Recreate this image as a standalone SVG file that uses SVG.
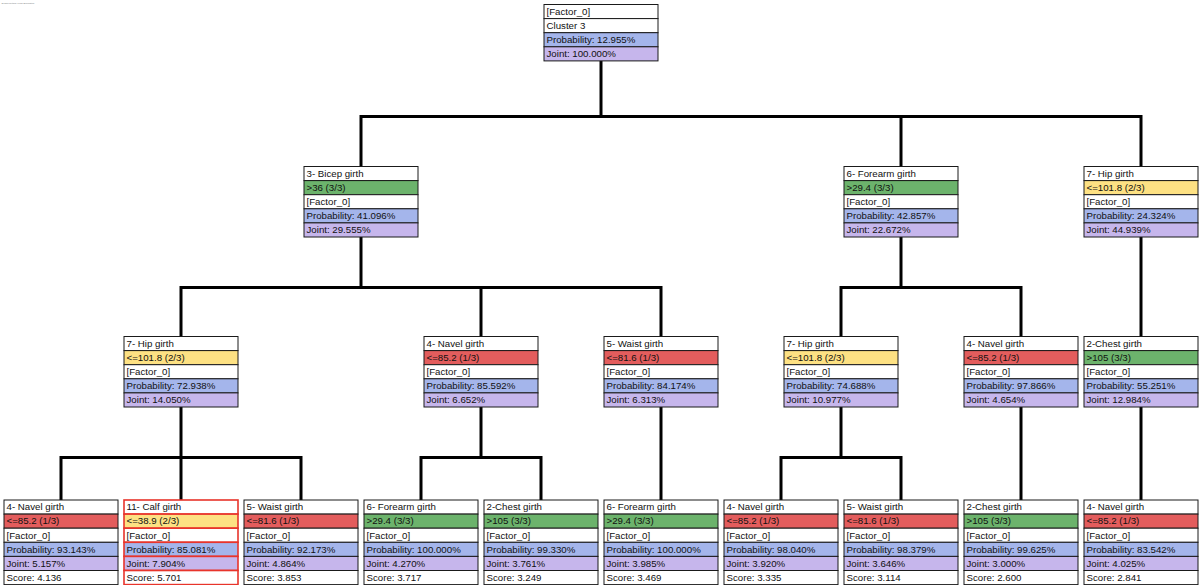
<svg xmlns="http://www.w3.org/2000/svg" width="1200" height="585" viewBox="0 0 1200 585">
<style>
rect{stroke:#1a1a1a;stroke-width:1}
.w{fill:#ffffff}.r{fill:#e35d5d}.y{fill:#fde183}.g{fill:#6cb36c}.b{fill:#a4b5eb}.p{fill:#c6b6ec}
.sel rect{stroke:#e8342b;stroke-width:1.6}
text{font-family:"Liberation Sans",Arial,sans-serif;font-size:9.7px;fill:#111}
.cap{font-size:2.2px;fill:#777}
.con path{fill:none;stroke:#000;stroke-width:3;stroke-linejoin:miter;stroke-linecap:butt}
</style>
<text class="cap" x="1.5" y="3.5">Search Method: Local Exploration</text>
<g class="con" id="connectors">
<path d="M601 60.5V116.5"/><path d="M361 166.5V116.5H1141V166.5"/><path d="M901 116.5V166.5"/>
<path d="M361 237V287.5"/><path d="M181 336.5V287.5H661V336.5"/><path d="M481 287.5V336.5"/>
<path d="M901 237V287.5"/><path d="M841 336.5V287.5H1021V336.5"/>
<path d="M1141 237V336.5"/>
<path d="M181 407V457.5"/><path d="M61 500V457.5H301V500"/><path d="M181 457.5V500"/>
<path d="M481 407V457.5"/><path d="M421 500V457.5H541V500"/>
<path d="M661 407V500"/>
<path d="M841 407V457.5"/><path d="M781 500V457.5H901V500"/>
<path d="M1021 407V500"/>
<path d="M1141 407V500"/>
</g>
<g id="root">
<rect class="w" x="544" y="4.5" width="114" height="14.1"/><text x="546.5" y="14.8">[Factor_0]</text>
<rect class="w" x="544" y="18.6" width="114" height="14.1"/><text x="546.5" y="28.9">Cluster 3</text>
<rect class="b" x="544" y="32.7" width="114" height="14.1"/><text x="546.5" y="43">Probability: 12.955%</text>
<rect class="p" x="544" y="46.8" width="114" height="14.1"/><text x="546.5" y="57.1">Joint: 100.000%</text>
</g>
<g id="n_bicep">
<rect class="w" x="304" y="166.5" width="114" height="14.1"/><text x="306.5" y="176.8">3- Bicep girth</text>
<rect class="g" x="304" y="180.6" width="114" height="14.1"/><text x="306.5" y="190.9">&gt;36 (3/3)</text>
<rect class="w" x="304" y="194.7" width="114" height="14.1"/><text x="306.5" y="205">[Factor_0]</text>
<rect class="b" x="304" y="208.8" width="114" height="14.1"/><text x="306.5" y="219.1">Probability: 41.096%</text>
<rect class="p" x="304" y="222.9" width="114" height="14.1"/><text x="306.5" y="233.2">Joint: 29.555%</text>
</g>
<g id="n_forearm">
<rect class="w" x="844" y="166.5" width="114" height="14.1"/><text x="846.5" y="176.8">6- Forearm girth</text>
<rect class="g" x="844" y="180.6" width="114" height="14.1"/><text x="846.5" y="190.9">&gt;29.4 (3/3)</text>
<rect class="w" x="844" y="194.7" width="114" height="14.1"/><text x="846.5" y="205">[Factor_0]</text>
<rect class="b" x="844" y="208.8" width="114" height="14.1"/><text x="846.5" y="219.1">Probability: 42.857%</text>
<rect class="p" x="844" y="222.9" width="114" height="14.1"/><text x="846.5" y="233.2">Joint: 22.672%</text>
</g>
<g id="n_hip1">
<rect class="w" x="1084" y="166.5" width="114" height="14.1"/><text x="1086.5" y="176.8">7- Hip girth</text>
<rect class="y" x="1084" y="180.6" width="114" height="14.1"/><text x="1086.5" y="190.9">&lt;=101.8 (2/3)</text>
<rect class="w" x="1084" y="194.7" width="114" height="14.1"/><text x="1086.5" y="205">[Factor_0]</text>
<rect class="b" x="1084" y="208.8" width="114" height="14.1"/><text x="1086.5" y="219.1">Probability: 24.324%</text>
<rect class="p" x="1084" y="222.9" width="114" height="14.1"/><text x="1086.5" y="233.2">Joint: 44.939%</text>
</g>
<g id="n_hip2">
<rect class="w" x="124" y="336.5" width="114" height="14.1"/><text x="126.5" y="346.8">7- Hip girth</text>
<rect class="y" x="124" y="350.6" width="114" height="14.1"/><text x="126.5" y="360.9">&lt;=101.8 (2/3)</text>
<rect class="w" x="124" y="364.7" width="114" height="14.1"/><text x="126.5" y="375">[Factor_0]</text>
<rect class="b" x="124" y="378.8" width="114" height="14.1"/><text x="126.5" y="389.1">Probability: 72.938%</text>
<rect class="p" x="124" y="392.9" width="114" height="14.1"/><text x="126.5" y="403.2">Joint: 14.050%</text>
</g>
<g id="n_navel2">
<rect class="w" x="424" y="336.5" width="114" height="14.1"/><text x="426.5" y="346.8">4- Navel girth</text>
<rect class="r" x="424" y="350.6" width="114" height="14.1"/><text x="426.5" y="360.9">&lt;=85.2 (1/3)</text>
<rect class="w" x="424" y="364.7" width="114" height="14.1"/><text x="426.5" y="375">[Factor_0]</text>
<rect class="b" x="424" y="378.8" width="114" height="14.1"/><text x="426.5" y="389.1">Probability: 85.592%</text>
<rect class="p" x="424" y="392.9" width="114" height="14.1"/><text x="426.5" y="403.2">Joint: 6.652%</text>
</g>
<g id="n_waist2">
<rect class="w" x="604" y="336.5" width="114" height="14.1"/><text x="606.5" y="346.8">5- Waist girth</text>
<rect class="r" x="604" y="350.6" width="114" height="14.1"/><text x="606.5" y="360.9">&lt;=81.6 (1/3)</text>
<rect class="w" x="604" y="364.7" width="114" height="14.1"/><text x="606.5" y="375">[Factor_0]</text>
<rect class="b" x="604" y="378.8" width="114" height="14.1"/><text x="606.5" y="389.1">Probability: 84.174%</text>
<rect class="p" x="604" y="392.9" width="114" height="14.1"/><text x="606.5" y="403.2">Joint: 6.313%</text>
</g>
<g id="n_hip3">
<rect class="w" x="784" y="336.5" width="114" height="14.1"/><text x="786.5" y="346.8">7- Hip girth</text>
<rect class="y" x="784" y="350.6" width="114" height="14.1"/><text x="786.5" y="360.9">&lt;=101.8 (2/3)</text>
<rect class="w" x="784" y="364.7" width="114" height="14.1"/><text x="786.5" y="375">[Factor_0]</text>
<rect class="b" x="784" y="378.8" width="114" height="14.1"/><text x="786.5" y="389.1">Probability: 74.688%</text>
<rect class="p" x="784" y="392.9" width="114" height="14.1"/><text x="786.5" y="403.2">Joint: 10.977%</text>
</g>
<g id="n_navel3">
<rect class="w" x="964" y="336.5" width="114" height="14.1"/><text x="966.5" y="346.8">4- Navel girth</text>
<rect class="r" x="964" y="350.6" width="114" height="14.1"/><text x="966.5" y="360.9">&lt;=85.2 (1/3)</text>
<rect class="w" x="964" y="364.7" width="114" height="14.1"/><text x="966.5" y="375">[Factor_0]</text>
<rect class="b" x="964" y="378.8" width="114" height="14.1"/><text x="966.5" y="389.1">Probability: 97.866%</text>
<rect class="p" x="964" y="392.9" width="114" height="14.1"/><text x="966.5" y="403.2">Joint: 4.654%</text>
</g>
<g id="n_chest2">
<rect class="w" x="1084" y="336.5" width="114" height="14.1"/><text x="1086.5" y="346.8">2-Chest girth</text>
<rect class="g" x="1084" y="350.6" width="114" height="14.1"/><text x="1086.5" y="360.9">&gt;105 (3/3)</text>
<rect class="w" x="1084" y="364.7" width="114" height="14.1"/><text x="1086.5" y="375">[Factor_0]</text>
<rect class="b" x="1084" y="378.8" width="114" height="14.1"/><text x="1086.5" y="389.1">Probability: 55.251%</text>
<rect class="p" x="1084" y="392.9" width="114" height="14.1"/><text x="1086.5" y="403.2">Joint: 12.984%</text>
</g>
<g id="leaf1">
<rect class="w" x="4" y="500" width="114" height="14.1"/><text x="6.5" y="510.3">4- Navel girth</text>
<rect class="r" x="4" y="514.1" width="114" height="14.1"/><text x="6.5" y="524.4">&lt;=85.2 (1/3)</text>
<rect class="w" x="4" y="528.2" width="114" height="14.1"/><text x="6.5" y="538.5">[Factor_0]</text>
<rect class="b" x="4" y="542.3" width="114" height="14.1"/><text x="6.5" y="552.6">Probability: 93.143%</text>
<rect class="p" x="4" y="556.4" width="114" height="14.1"/><text x="6.5" y="566.7">Joint: 5.157%</text>
<rect class="w" x="4" y="570.5" width="114" height="14.1"/><text x="6.5" y="580.8">Score: 4.136</text>
</g>
<g id="leaf2" class="sel">
<rect class="w" x="124" y="500" width="114" height="14.1"/><text x="126.5" y="510.3">11- Calf girth</text>
<rect class="y" x="124" y="514.1" width="114" height="14.1"/><text x="126.5" y="524.4">&lt;=38.9 (2/3)</text>
<rect class="w" x="124" y="528.2" width="114" height="14.1"/><text x="126.5" y="538.5">[Factor_0]</text>
<rect class="b" x="124" y="542.3" width="114" height="14.1"/><text x="126.5" y="552.6">Probability: 85.081%</text>
<rect class="p" x="124" y="556.4" width="114" height="14.1"/><text x="126.5" y="566.7">Joint: 7.904%</text>
<rect class="w" x="124" y="570.5" width="114" height="14.1"/><text x="126.5" y="580.8">Score: 5.701</text>
</g>
<g id="leaf3">
<rect class="w" x="244" y="500" width="114" height="14.1"/><text x="246.5" y="510.3">5- Waist girth</text>
<rect class="r" x="244" y="514.1" width="114" height="14.1"/><text x="246.5" y="524.4">&lt;=81.6 (1/3)</text>
<rect class="w" x="244" y="528.2" width="114" height="14.1"/><text x="246.5" y="538.5">[Factor_0]</text>
<rect class="b" x="244" y="542.3" width="114" height="14.1"/><text x="246.5" y="552.6">Probability: 92.173%</text>
<rect class="p" x="244" y="556.4" width="114" height="14.1"/><text x="246.5" y="566.7">Joint: 4.864%</text>
<rect class="w" x="244" y="570.5" width="114" height="14.1"/><text x="246.5" y="580.8">Score: 3.853</text>
</g>
<g id="leaf4">
<rect class="w" x="364" y="500" width="114" height="14.1"/><text x="366.5" y="510.3">6- Forearm girth</text>
<rect class="g" x="364" y="514.1" width="114" height="14.1"/><text x="366.5" y="524.4">&gt;29.4 (3/3)</text>
<rect class="w" x="364" y="528.2" width="114" height="14.1"/><text x="366.5" y="538.5">[Factor_0]</text>
<rect class="b" x="364" y="542.3" width="114" height="14.1"/><text x="366.5" y="552.6">Probability: 100.000%</text>
<rect class="p" x="364" y="556.4" width="114" height="14.1"/><text x="366.5" y="566.7">Joint: 4.270%</text>
<rect class="w" x="364" y="570.5" width="114" height="14.1"/><text x="366.5" y="580.8">Score: 3.717</text>
</g>
<g id="leaf5">
<rect class="w" x="484" y="500" width="114" height="14.1"/><text x="486.5" y="510.3">2-Chest girth</text>
<rect class="g" x="484" y="514.1" width="114" height="14.1"/><text x="486.5" y="524.4">&gt;105 (3/3)</text>
<rect class="w" x="484" y="528.2" width="114" height="14.1"/><text x="486.5" y="538.5">[Factor_0]</text>
<rect class="b" x="484" y="542.3" width="114" height="14.1"/><text x="486.5" y="552.6">Probability: 99.330%</text>
<rect class="p" x="484" y="556.4" width="114" height="14.1"/><text x="486.5" y="566.7">Joint: 3.761%</text>
<rect class="w" x="484" y="570.5" width="114" height="14.1"/><text x="486.5" y="580.8">Score: 3.249</text>
</g>
<g id="leaf6">
<rect class="w" x="604" y="500" width="114" height="14.1"/><text x="606.5" y="510.3">6- Forearm girth</text>
<rect class="g" x="604" y="514.1" width="114" height="14.1"/><text x="606.5" y="524.4">&gt;29.4 (3/3)</text>
<rect class="w" x="604" y="528.2" width="114" height="14.1"/><text x="606.5" y="538.5">[Factor_0]</text>
<rect class="b" x="604" y="542.3" width="114" height="14.1"/><text x="606.5" y="552.6">Probability: 100.000%</text>
<rect class="p" x="604" y="556.4" width="114" height="14.1"/><text x="606.5" y="566.7">Joint: 3.985%</text>
<rect class="w" x="604" y="570.5" width="114" height="14.1"/><text x="606.5" y="580.8">Score: 3.469</text>
</g>
<g id="leaf7">
<rect class="w" x="724" y="500" width="114" height="14.1"/><text x="726.5" y="510.3">4- Navel girth</text>
<rect class="r" x="724" y="514.1" width="114" height="14.1"/><text x="726.5" y="524.4">&lt;=85.2 (1/3)</text>
<rect class="w" x="724" y="528.2" width="114" height="14.1"/><text x="726.5" y="538.5">[Factor_0]</text>
<rect class="b" x="724" y="542.3" width="114" height="14.1"/><text x="726.5" y="552.6">Probability: 98.040%</text>
<rect class="p" x="724" y="556.4" width="114" height="14.1"/><text x="726.5" y="566.7">Joint: 3.920%</text>
<rect class="w" x="724" y="570.5" width="114" height="14.1"/><text x="726.5" y="580.8">Score: 3.335</text>
</g>
<g id="leaf8">
<rect class="w" x="844" y="500" width="114" height="14.1"/><text x="846.5" y="510.3">5- Waist girth</text>
<rect class="r" x="844" y="514.1" width="114" height="14.1"/><text x="846.5" y="524.4">&lt;=81.6 (1/3)</text>
<rect class="w" x="844" y="528.2" width="114" height="14.1"/><text x="846.5" y="538.5">[Factor_0]</text>
<rect class="b" x="844" y="542.3" width="114" height="14.1"/><text x="846.5" y="552.6">Probability: 98.379%</text>
<rect class="p" x="844" y="556.4" width="114" height="14.1"/><text x="846.5" y="566.7">Joint: 3.646%</text>
<rect class="w" x="844" y="570.5" width="114" height="14.1"/><text x="846.5" y="580.8">Score: 3.114</text>
</g>
<g id="leaf9">
<rect class="w" x="964" y="500" width="114" height="14.1"/><text x="966.5" y="510.3">2-Chest girth</text>
<rect class="g" x="964" y="514.1" width="114" height="14.1"/><text x="966.5" y="524.4">&gt;105 (3/3)</text>
<rect class="w" x="964" y="528.2" width="114" height="14.1"/><text x="966.5" y="538.5">[Factor_0]</text>
<rect class="b" x="964" y="542.3" width="114" height="14.1"/><text x="966.5" y="552.6">Probability: 99.625%</text>
<rect class="p" x="964" y="556.4" width="114" height="14.1"/><text x="966.5" y="566.7">Joint: 3.000%</text>
<rect class="w" x="964" y="570.5" width="114" height="14.1"/><text x="966.5" y="580.8">Score: 2.600</text>
</g>
<g id="leaf10">
<rect class="w" x="1084" y="500" width="114" height="14.1"/><text x="1086.5" y="510.3">4- Navel girth</text>
<rect class="r" x="1084" y="514.1" width="114" height="14.1"/><text x="1086.5" y="524.4">&lt;=85.2 (1/3)</text>
<rect class="w" x="1084" y="528.2" width="114" height="14.1"/><text x="1086.5" y="538.5">[Factor_0]</text>
<rect class="b" x="1084" y="542.3" width="114" height="14.1"/><text x="1086.5" y="552.6">Probability: 83.542%</text>
<rect class="p" x="1084" y="556.4" width="114" height="14.1"/><text x="1086.5" y="566.7">Joint: 4.025%</text>
<rect class="w" x="1084" y="570.5" width="114" height="14.1"/><text x="1086.5" y="580.8">Score: 2.841</text>
</g>
</svg>
